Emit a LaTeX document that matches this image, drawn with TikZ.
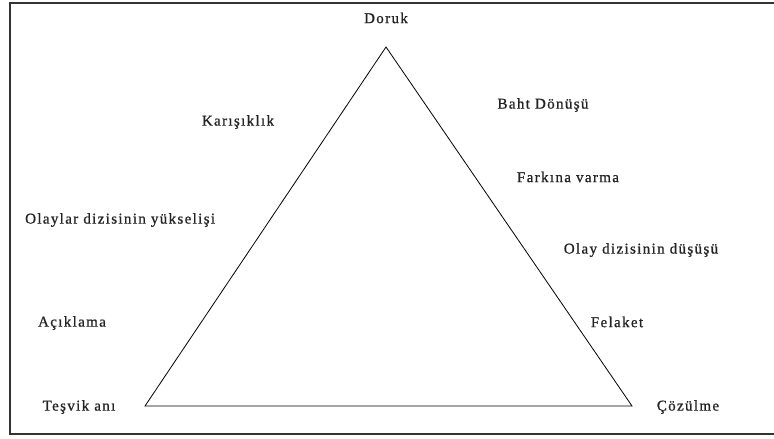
\documentclass[tikz,border=0pt]{standalone}
\usepackage{fontspec}
\setmainfont[LetterSpace=9,FakeBold=0.8]{Liberation Serif}
\usetikzlibrary{positioning}
\definecolor{FrameGray}{HTML}{333333}
\definecolor{TextGray}{HTML}{222222}

\begin{document}
\begin{tikzpicture}[x=1pt,y=1pt]
        \useasboundingbox (0,0) rectangle (774,439);
        \tikzset{lbl/.style={font=\fontsize{15}{18}\selectfont,color=TextGray,inner sep=0pt}}
        % frame (open on the right)
        \draw[FrameGray,line width=1.3pt] (776,436) -- (10,436) -- (10,5) -- (776,5);
        % triangle
        \coordinate (top) at (386,392);
        \coordinate (left) at (145,33);
        \coordinate (right) at (632,33);
        \draw[line width=0.8pt] (left) -- (top) -- (right) -- cycle;
        % labels
        \node[lbl] (doruk) at (386,421) {Doruk};
        \node[lbl] (karisik) at (238,317) {Karışıklık};
        \node[lbl] (baht) at (543,334) {Baht Dönüşü};
        \node[lbl] (fark) at (568,262) {Farkına varma};
        \node[lbl,anchor=west] (yuksel) at (25,219) {Olaylar dizisinin yükselişi};
        \node[lbl] (dusus) at (641,189) {Olay dizisinin düşüşü};
        \node[lbl] (acik) at (72,116) {Açıklama};
        \node[lbl] (felaket) at (617,117) {Felaket};
        \node[lbl] (tesvik) at (79,32) {Teşvik anı};
        \node[lbl] (cozul) at (688,32) {Çözülme};
      \end{tikzpicture}
\end{document}
